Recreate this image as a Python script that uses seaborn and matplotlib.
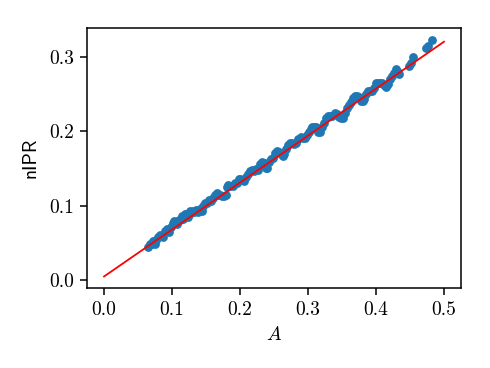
import numpy as np
import pandas as pd
import matplotlib
matplotlib.use("Agg")
import matplotlib.pyplot as plt
import seaborn as sns

# scatter points
A = [0.065, 0.067, 0.070, 0.072, 0.075, 0.077, 0.080, 0.082, 0.085, 0.087,
     0.090, 0.092, 0.094, 0.096, 0.099, 0.101, 0.103, 0.105, 0.107, 0.110,
     0.112, 0.114, 0.116, 0.119, 0.121, 0.123, 0.126, 0.128, 0.131, 0.133,
     0.136, 0.138, 0.141, 0.144, 0.146, 0.149, 0.151, 0.154, 0.157, 0.160,
     0.163, 0.166, 0.168, 0.171, 0.174, 0.177, 0.180, 0.181, 0.183, 0.186,
     0.189, 0.192, 0.195, 0.198, 0.200, 0.203, 0.206, 0.209, 0.212, 0.215,
     0.218, 0.221, 0.224, 0.227, 0.230, 0.232, 0.235, 0.238, 0.240, 0.243,
     0.246, 0.249, 0.252, 0.254, 0.257, 0.260, 0.263, 0.265, 0.268, 0.271,
     0.274, 0.277, 0.280, 0.283, 0.286, 0.289, 0.292, 0.295, 0.298, 0.301,
     0.304, 0.306, 0.309, 0.312, 0.315, 0.318, 0.321, 0.324, 0.327, 0.330,
     0.333, 0.336, 0.339, 0.342, 0.345, 0.348, 0.351, 0.354, 0.357, 0.360,
     0.363, 0.366, 0.369, 0.372, 0.375, 0.378, 0.381, 0.383, 0.385, 0.388,
     0.391, 0.394, 0.397, 0.400, 0.403, 0.406, 0.409, 0.412, 0.415, 0.418,
     0.420, 0.423, 0.427, 0.430, 0.433, 0.434, 0.448, 0.451, 0.454, 0.473,
     0.476, 0.482]
nIPR = [0.0436, 0.0478, 0.0477, 0.0520, 0.0489, 0.0532, 0.0581, 0.0603, 0.0592, 0.0575,
        0.0664, 0.0686, 0.0659, 0.0642, 0.0711, 0.0763, 0.0796, 0.0769, 0.0751, 0.0810,
        0.0803, 0.0855, 0.0818, 0.0887, 0.0880, 0.0852, 0.0921, 0.0904, 0.0933, 0.0916,
        0.0945, 0.0907, 0.0956, 0.0925, 0.0998, 0.1037, 0.1040, 0.1078, 0.1067, 0.1106,
        0.1145, 0.1174, 0.1147, 0.1146, 0.1125, 0.1134, 0.1143, 0.1249, 0.1282, 0.1261,
        0.1260, 0.1308, 0.1307, 0.1356, 0.1359, 0.1338, 0.1337, 0.1386, 0.1425, 0.1464,
        0.1473, 0.1462, 0.1491, 0.1480, 0.1559, 0.1591, 0.1570, 0.1509, 0.1502, 0.1581,
        0.1630, 0.1639, 0.1708, 0.1740, 0.1719, 0.1688, 0.1667, 0.1690, 0.1759, 0.1818,
        0.1847, 0.1836, 0.1835, 0.1844, 0.1893, 0.1921, 0.1910, 0.1909, 0.1948, 0.1987,
        0.2026, 0.2059, 0.2058, 0.2057, 0.1996, 0.1995, 0.2054, 0.2113, 0.2172, 0.2211,
        0.2200, 0.2209, 0.2247, 0.2226, 0.2195, 0.2184, 0.2183, 0.2242, 0.2311, 0.2350,
        0.2399, 0.2448, 0.2477, 0.2476, 0.2455, 0.2414, 0.2403, 0.2436, 0.2508, 0.2537,
        0.2536, 0.2545, 0.2584, 0.2643, 0.2652, 0.2651, 0.2650, 0.2619, 0.2598, 0.2637,
        0.2699, 0.2738, 0.2784, 0.2833, 0.2802, 0.2768, 0.2876, 0.2925, 0.2994, 0.3115,
        0.3145, 0.3225]

# fitted line
fit_x = [0.0, 0.5]
fit_y = [0.0045, 0.3205]

plt.rcParams['font.family'] = 'cmr10'
plt.rcParams['mathtext.fontset'] = 'cm'
plt.rcParams['axes.formatter.use_mathtext'] = True
plt.rcParams['font.size'] = 14

df = pd.DataFrame({'A': A, 'nIPR': nIPR})

fig = plt.figure(figsize=(4.9, 3.68), dpi=100)
ax = fig.add_axes([0.1776, 0.2174, 0.7632, 0.7065])
sns.scatterplot(data=df, x='A', y='nIPR', ax=ax, s=40, linewidth=0,
                color='#1f77b4', alpha=1)
sns.lineplot(x=fit_x, y=fit_y, ax=ax, color='red', linewidth=1.3)

ax.set_xlim(-0.025, 0.525)
ax.set_ylim(-0.011, 0.339)
ax.set_xticks([0.0, 0.1, 0.2, 0.3, 0.4, 0.5])
ax.set_yticks([0.0, 0.1, 0.2, 0.3])
ax.set_xticklabels(['0.0', '0.1', '0.2', '0.3', '0.4', '0.5'])
ax.set_yticklabels(['0.0', '0.1', '0.2', '0.3'])
ax.tick_params(length=5, width=1.1, pad=4.5)
ax.set_xlabel('$A$', labelpad=5)
ax.set_ylabel('nIPR', family='cmss10', labelpad=7)
for s in ax.spines.values():
    s.set_linewidth(1.1)

fig.savefig('out.png', dpi=100)
